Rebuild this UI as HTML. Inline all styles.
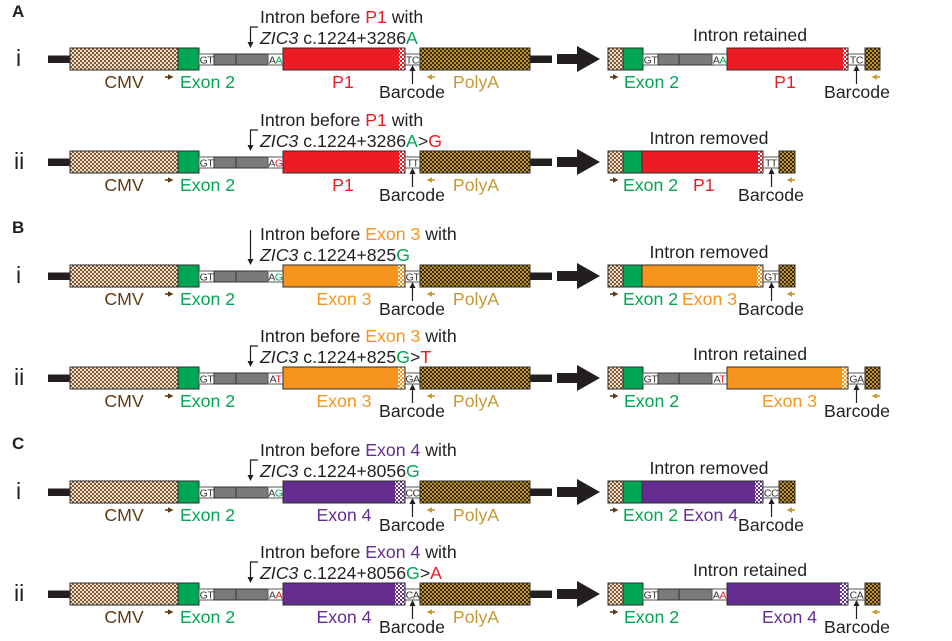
<!DOCTYPE html>
<html><head><meta charset="utf-8"><style>
html,body{margin:0;padding:0;background:#fff;}
svg{display:block;}
text{font-family:"Liberation Sans",Arial,sans-serif;font-size:17.7px;fill:#231f20;}
.rl{font-size:23px;}
.sec{font-size:17px;font-weight:bold;}
.s{font-size:10.5px;fill:#333;text-anchor:middle;letter-spacing:-0.4px;}
.m{text-anchor:middle;}
.bx{stroke:#2e2e2e;stroke-width:1;}
.ln{stroke:#231f20;stroke-width:1.2;fill:none;}
.wb{fill:#fff;stroke:#555;stroke-width:1;}
.gr{fill:#7a7a7a;stroke:#333;stroke-width:1;}
.br{fill:#603913;}
.go{fill:#c49a36;}
</style></head><body>
<svg width="952" height="641" viewBox="0 0 952 641" xmlns="http://www.w3.org/2000/svg">
<defs>
<pattern id="cmv" width="4" height="4" patternUnits="userSpaceOnUse"><rect width="4" height="4" fill="#ece0d2"/><rect width="2" height="2" fill="#85592f"/><rect x="2" y="2" width="2" height="2" fill="#85592f"/></pattern>
<pattern id="pa" width="4" height="4" patternUnits="userSpaceOnUse"><rect width="4" height="4" fill="#3a2a0a"/><rect width="2" height="2" fill="#c09530"/><rect x="2" y="2" width="2" height="2" fill="#c09530"/></pattern>
<pattern id="rc" width="4" height="4" patternUnits="userSpaceOnUse"><rect width="4" height="4" fill="#fff"/><rect width="2" height="2" fill="#ed1c24"/><rect x="2" y="2" width="2" height="2" fill="#ed1c24"/></pattern>
<pattern id="oc" width="4" height="4" patternUnits="userSpaceOnUse"><rect width="4" height="4" fill="#fff"/><rect width="2" height="2" fill="#f7941d"/><rect x="2" y="2" width="2" height="2" fill="#f7941d"/></pattern>
<pattern id="pc" width="4" height="4" patternUnits="userSpaceOnUse"><rect width="4" height="4" fill="#fff"/><rect width="2" height="2" fill="#662d91"/><rect x="2" y="2" width="2" height="2" fill="#662d91"/></pattern>

<g id="lbase">
  <rect x="48" y="7.5" width="22" height="7.5" fill="#231f20"/>
  <rect x="530" y="7.5" width="22" height="7.5" fill="#231f20"/>
  <rect x="70" y="0" width="108" height="22" fill="url(#cmv)" class="bx"/>
  <rect x="178" y="0" width="21" height="22" fill="#00a651" class="bx"/>
  <rect x="199" y="6" width="15" height="11" class="wb"/>
  <rect x="214" y="6" width="54" height="11" class="gr"/>
  <line x1="236" y1="6" x2="236" y2="17" stroke="#333"/>
  <rect x="268" y="6" width="15" height="11" class="wb"/>
  <rect x="405" y="6" width="15" height="11" class="wb"/>
  <rect x="420" y="0" width="110" height="22" fill="url(#pa)" class="bx"/>
  <rect x="165" y="28.2" width="4" height="1.6" class="br"/>
  <polygon points="168,26.3 173.5,29 168,31.7" class="br"/>
  <rect x="431" y="28.2" width="4" height="1.6" class="go"/>
  <polygon points="432,26.3 426.5,29 432,31.7" class="go"/>
  <line x1="412.5" y1="36" x2="412.5" y2="22" class="ln"/>
  <polygon points="409.5,23 415.5,23 412.5,17" fill="#231f20"/>
  <rect x="557" y="6" width="21" height="10" fill="#231f20"/>
  <polygon points="577,-2 600,11 577,24" fill="#231f20"/>
</g>
<g id="rret">
  <rect x="608" y="0" width="15" height="22" fill="url(#cmv)" class="bx"/>
  <rect x="623" y="0" width="20" height="22" fill="#00a651" class="bx"/>
  <rect x="643" y="6" width="15" height="11" class="wb"/>
  <rect x="658" y="6" width="54" height="11" class="gr"/>
  <line x1="679" y1="6" x2="679" y2="17" stroke="#333"/>
  <rect x="712" y="6" width="15" height="11" class="wb"/>
  <rect x="848" y="6" width="17" height="11" class="wb"/>
  <rect x="865" y="0" width="15" height="22" fill="url(#pa)" class="bx"/>
  <rect x="610" y="28.2" width="4" height="1.6" class="br"/>
  <polygon points="613,26.3 618.5,29 613,31.7" class="br"/>
  <rect x="876" y="28.2" width="4" height="1.6" class="go"/>
  <polygon points="877,26.3 871.5,29 877,31.7" class="go"/>
  <line x1="856.5" y1="36" x2="856.5" y2="22" class="ln"/>
  <polygon points="853.5,23 859.5,23 856.5,17" fill="#231f20"/>
</g>
<g id="rrem">
  <rect x="608" y="0" width="15" height="22" fill="url(#cmv)" class="bx"/>
  <rect x="623" y="0" width="19" height="22" fill="#00a651" class="bx"/>
  <rect x="763" y="6" width="16" height="11" class="wb"/>
  <rect x="779" y="0" width="16" height="22" fill="url(#pa)" class="bx"/>
  <rect x="610" y="28.2" width="4" height="1.6" class="br"/>
  <polygon points="613,26.3 618.5,29 613,31.7" class="br"/>
  <rect x="791" y="28.2" width="4" height="1.6" class="go"/>
  <polygon points="792,26.3 786.5,29 792,31.7" class="go"/>
  <line x1="771.5" y1="36" x2="771.5" y2="22" class="ln"/>
  <polygon points="768.5,23 774.5,23 771.5,17" fill="#231f20"/>
</g>
</defs>

<text class="sec" x="12" y="17">A</text>
<text class="sec" x="12" y="233">B</text>
<text class="sec" x="12" y="449">C</text>

<!-- A.i -->
<g transform="translate(0,48)">
  <text class="rl" x="16" y="18">i</text>
  <text x="260" y="-25">Intron before <tspan fill="#ed1c24">P1</tspan> with</text>
  <text x="260" y="-4"><tspan font-style="italic">ZIC3</tspan> c.1224+3286<tspan fill="#00a651">A</tspan></text>
  <path d="M258,-21H250.5V-5" class="ln"/><polygon points="247.5,-6 253.5,-6 250.5,0" fill="#231f20"/>
  <use href="#lbase"/>
  <rect x="283" y="0" width="122" height="22" fill="#ed1c24" class="bx"/>
  <rect x="399" y="0.5" width="5.5" height="21" fill="url(#rc)"/>
  <text class="s" x="206.5" y="15.5">GT</text>
  <text class="s" x="275.5" y="15.5">A<tspan fill="#00a651">A</tspan></text>
  <text class="s" x="412.5" y="15.5">TC</text>
  <text x="124" y="40" class="m" style="fill:#603913">CMV</text>
  <text x="180" y="40" style="fill:#00a651">Exon 2</text>
  <text x="343" y="40" class="m" style="fill:#ed1c24">P1</text>
  <text x="412" y="50" class="m">Barcode</text>
  <text x="476" y="40" class="m" style="fill:#c49a36">PolyA</text>
  <use href="#rret"/>
  <rect x="727" y="0" width="121" height="22" fill="#ed1c24" class="bx"/>
  <rect x="843" y="0.5" width="4.5" height="21" fill="url(#rc)"/>
  <text class="s" x="650.5" y="15.5">GT</text>
  <text class="s" x="719.5" y="15.5">A<tspan fill="#00a651">A</tspan></text>
  <text class="s" x="856.5" y="15.5">TC</text>
  <text x="750" y="-7" class="m">Intron retained</text>
  <text x="624" y="40" style="fill:#00a651">Exon 2</text>
  <text x="785" y="40" class="m" style="fill:#ed1c24">P1</text>
  <text x="857" y="50" class="m">Barcode</text>
</g>

<!-- A.ii -->
<g transform="translate(0,151)">
  <text class="rl" x="14" y="18">ii</text>
  <text x="260" y="-25">Intron before <tspan fill="#ed1c24">P1</tspan> with</text>
  <text x="260" y="-4"><tspan font-style="italic">ZIC3</tspan> c.1224+3286<tspan fill="#00a651">A</tspan>&gt;<tspan fill="#ed1c24">G</tspan></text>
  <path d="M258,-21H250.5V-5" class="ln"/><polygon points="247.5,-6 253.5,-6 250.5,0" fill="#231f20"/>
  <use href="#lbase"/>
  <rect x="283" y="0" width="122" height="22" fill="#ed1c24" class="bx"/>
  <rect x="399" y="0.5" width="5.5" height="21" fill="url(#rc)"/>
  <text class="s" x="206.5" y="15.5">GT</text>
  <text class="s" x="275.5" y="15.5">A<tspan fill="#ed1c24">G</tspan></text>
  <text class="s" x="412.5" y="15.5">TT</text>
  <text x="124" y="40" class="m" style="fill:#603913">CMV</text>
  <text x="180" y="40" style="fill:#00a651">Exon 2</text>
  <text x="343" y="40" class="m" style="fill:#ed1c24">P1</text>
  <text x="412" y="50" class="m">Barcode</text>
  <text x="476" y="40" class="m" style="fill:#c49a36">PolyA</text>
  <use href="#rrem"/>
  <rect x="642" y="0" width="121" height="22" fill="#ed1c24" class="bx"/>
  <rect x="758" y="0.5" width="4.5" height="21" fill="url(#rc)"/>
  <text class="s" x="771" y="15.5">TT</text>
  <text x="709" y="-7" class="m">Intron removed</text>
  <text x="623" y="40" style="fill:#00a651">Exon 2</text>
  <text x="693" y="40" style="fill:#ed1c24">P1</text>
  <text x="771" y="50" class="m">Barcode</text>
</g>

<!-- B.i -->
<g transform="translate(0,265)">
  <text class="rl" x="16" y="18">i</text>
  <text x="260" y="-25">Intron before <tspan fill="#f7941d">Exon 3</tspan> with</text>
  <text x="260" y="-4"><tspan font-style="italic">ZIC3</tspan> c.1224+825<tspan fill="#00a651">G</tspan></text>
  <path d="M250.5,-35V-5" class="ln"/><polygon points="247.5,-6 253.5,-6 250.5,0" fill="#231f20"/>
  <use href="#lbase"/>
  <rect x="283" y="0" width="122" height="22" fill="#f7941d" class="bx"/>
  <rect x="398" y="0.5" width="6.5" height="21" fill="url(#oc)"/>
  <text class="s" x="206.5" y="15.5">GT</text>
  <text class="s" x="275.5" y="15.5">A<tspan fill="#00a651">G</tspan></text>
  <text class="s" x="412.5" y="15.5">GT</text>
  <text x="124" y="40" class="m" style="fill:#603913">CMV</text>
  <text x="180" y="40" style="fill:#00a651">Exon 2</text>
  <text x="344" y="40" class="m" style="fill:#f7941d">Exon 3</text>
  <text x="412" y="50" class="m">Barcode</text>
  <text x="476" y="40" class="m" style="fill:#c49a36">PolyA</text>
  <use href="#rrem"/>
  <rect x="642" y="0" width="121" height="22" fill="#f7941d" class="bx"/>
  <rect x="757" y="0.5" width="5.5" height="21" fill="url(#oc)"/>
  <text class="s" x="771" y="15.5">GT</text>
  <text x="709" y="-7" class="m">Intron removed</text>
  <text x="623" y="40" style="fill:#00a651">Exon 2</text>
  <text x="682" y="40" style="fill:#f7941d">Exon 3</text>
  <text x="771" y="50" class="m">Barcode</text>
</g>

<!-- B.ii -->
<g transform="translate(0,367)">
  <text class="rl" x="14" y="18">ii</text>
  <text x="260" y="-25">Intron before <tspan fill="#f7941d">Exon 3</tspan> with</text>
  <text x="260" y="-4"><tspan font-style="italic">ZIC3</tspan> c.1224+825<tspan fill="#00a651">G</tspan>&gt;<tspan fill="#ed1c24">T</tspan></text>
  <path d="M258,-21H250.5V-5" class="ln"/><polygon points="247.5,-6 253.5,-6 250.5,0" fill="#231f20"/>
  <use href="#lbase"/>
  <rect x="283" y="0" width="122" height="22" fill="#f7941d" class="bx"/>
  <rect x="398" y="0.5" width="6.5" height="21" fill="url(#oc)"/>
  <text class="s" x="206.5" y="15.5">GT</text>
  <text class="s" x="275.5" y="15.5">A<tspan fill="#ed1c24">T</tspan></text>
  <text class="s" x="412.5" y="15.5">GA</text>
  <text x="124" y="40" class="m" style="fill:#603913">CMV</text>
  <text x="180" y="40" style="fill:#00a651">Exon 2</text>
  <text x="344" y="40" class="m" style="fill:#f7941d">Exon 3</text>
  <text x="412" y="50" class="m">Barcode</text>
  <text x="476" y="40" class="m" style="fill:#c49a36">PolyA</text>
  <use href="#rret"/>
  <rect x="727" y="0" width="121" height="22" fill="#f7941d" class="bx"/>
  <rect x="842" y="0.5" width="5.5" height="21" fill="url(#oc)"/>
  <text class="s" x="650.5" y="15.5">GT</text>
  <text class="s" x="719.5" y="15.5">A<tspan fill="#ed1c24">T</tspan></text>
  <text class="s" x="856.5" y="15.5">GA</text>
  <text x="750" y="-7" class="m">Intron retained</text>
  <text x="624" y="40" style="fill:#00a651">Exon 2</text>
  <text x="762" y="40" style="fill:#f7941d">Exon 3</text>
  <text x="857" y="50" class="m">Barcode</text>
</g>

<!-- C.i -->
<g transform="translate(0,481)">
  <text class="rl" x="16" y="18">i</text>
  <text x="260" y="-25">Intron before <tspan fill="#662d91">Exon 4</tspan> with</text>
  <text x="260" y="-4"><tspan font-style="italic">ZIC3</tspan> c.1224+8056<tspan fill="#00a651">G</tspan></text>
  <path d="M258,-21H250.5V-5" class="ln"/><polygon points="247.5,-6 253.5,-6 250.5,0" fill="#231f20"/>
  <use href="#lbase"/>
  <rect x="283" y="0" width="122" height="22" fill="#662d91" class="bx"/>
  <rect x="395" y="0.5" width="9.5" height="21" fill="url(#pc)"/>
  <text class="s" x="206.5" y="15.5">GT</text>
  <text class="s" x="275.5" y="15.5">A<tspan fill="#00a651">G</tspan></text>
  <text class="s" x="412.5" y="15.5">CC</text>
  <text x="124" y="40" class="m" style="fill:#603913">CMV</text>
  <text x="180" y="40" style="fill:#00a651">Exon 2</text>
  <text x="344" y="40" class="m" style="fill:#662d91">Exon 4</text>
  <text x="412" y="50" class="m">Barcode</text>
  <text x="476" y="40" class="m" style="fill:#c49a36">PolyA</text>
  <use href="#rrem"/>
  <rect x="642" y="0" width="121" height="22" fill="#662d91" class="bx"/>
  <rect x="755" y="0.5" width="7.5" height="21" fill="url(#pc)"/>
  <text class="s" x="771" y="15.5">CC</text>
  <text x="709" y="-7" class="m">Intron removed</text>
  <text x="623" y="40" style="fill:#00a651">Exon 2</text>
  <text x="683" y="40" style="fill:#662d91">Exon 4</text>
  <text x="771" y="50" class="m">Barcode</text>
</g>

<!-- C.ii -->
<g transform="translate(0,583)">
  <text class="rl" x="14" y="18">ii</text>
  <text x="260" y="-25">Intron before <tspan fill="#662d91">Exon 4</tspan> with</text>
  <text x="260" y="-4"><tspan font-style="italic">ZIC3</tspan> c.1224+8056<tspan fill="#00a651">G</tspan>&gt;<tspan fill="#ed1c24">A</tspan></text>
  <path d="M258,-21H250.5V-5" class="ln"/><polygon points="247.5,-6 253.5,-6 250.5,0" fill="#231f20"/>
  <use href="#lbase"/>
  <rect x="283" y="0" width="122" height="22" fill="#662d91" class="bx"/>
  <rect x="395" y="0.5" width="9.5" height="21" fill="url(#pc)"/>
  <text class="s" x="206.5" y="15.5">GT</text>
  <text class="s" x="275.5" y="15.5">A<tspan fill="#ed1c24">A</tspan></text>
  <text class="s" x="412.5" y="15.5">CA</text>
  <text x="124" y="40" class="m" style="fill:#603913">CMV</text>
  <text x="180" y="40" style="fill:#00a651">Exon 2</text>
  <text x="344" y="40" class="m" style="fill:#662d91">Exon 4</text>
  <text x="412" y="50" class="m">Barcode</text>
  <text x="476" y="40" class="m" style="fill:#c49a36">PolyA</text>
  <use href="#rret"/>
  <rect x="727" y="0" width="121" height="22" fill="#662d91" class="bx"/>
  <rect x="840" y="0.5" width="7.5" height="21" fill="url(#pc)"/>
  <text class="s" x="650.5" y="15.5">GT</text>
  <text class="s" x="719.5" y="15.5">A<tspan fill="#ed1c24">A</tspan></text>
  <text class="s" x="856.5" y="15.5">CA</text>
  <text x="750" y="-7" class="m">Intron retained</text>
  <text x="624" y="40" style="fill:#00a651">Exon 2</text>
  <text x="762" y="40" style="fill:#662d91">Exon 4</text>
  <text x="857" y="50" class="m">Barcode</text>
</g>
</svg>
</body></html>
